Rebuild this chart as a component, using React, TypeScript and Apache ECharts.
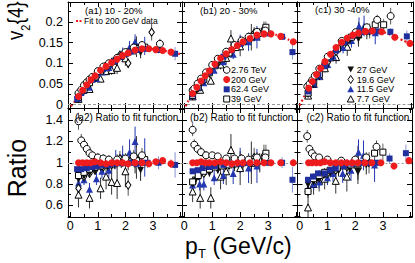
import React, { useEffect, useRef } from 'react';
import * as echarts from 'echarts';

// ---------- DATA: [pT, value, error] ----------
// Panel (a) 10-20%
const FIT_A = [[0.03,-0.004],[0.1,0.002],[0.2,0.011],[0.3,0.02],[0.4,0.03],[0.5,0.04],[0.6,0.048],[0.7,0.056],[0.8,0.063],[0.9,0.07],[1.0,0.077],[1.2,0.088],[1.4,0.097],[1.6,0.106],[1.8,0.115],[2.0,0.122],[2.2,0.128],[2.4,0.133],[2.6,0.135],[2.8,0.135],[3.0,0.134],[3.2,0.132],[3.4,0.13],[3.6,0.128],[3.8,0.125],[4.0,0.122]];
const A_TOP_276 = [[0.3,0.028,0.002],[0.4,0.036,0.002],[0.5,0.047,0.002],[0.6,0.054,0.002],[0.7,0.061,0.003],[0.8,0.067,0.003],[1.0,0.081,0.003],[1.2,0.092,0.004],[1.4,0.1,0.004],[1.7,0.113,0.005],[2.0,0.127,0.006],[2.3,0.138,0.008],[2.6,0.144,0.009],[3.25,0.147,0.012]];
const A_RAT_276 = [[0.3,1.39,0.08],[0.4,1.21,0.06],[0.5,1.17,0.05],[0.6,1.13,0.05],[0.7,1.09,0.04],[0.8,1.07,0.04],[1.0,1.05,0.04],[1.2,1.04,0.04],[1.4,1.03,0.04],[1.7,1.03,0.05],[2.0,1.04,0.05],[2.3,1.06,0.06],[2.6,1.07,0.07]];
const A_TOP_200 = [[0.3,0.02,0.001],[0.45,0.035,0.001],[0.6,0.048,0.001],[0.75,0.06,0.001],[0.9,0.07,0.001],[1.1,0.083,0.001],[1.3,0.093,0.001],[1.5,0.102,0.001],[1.7,0.11,0.002],[1.9,0.119,0.002],[2.1,0.125,0.002],[2.35,0.132,0.002],[2.6,0.135,0.003],[2.85,0.135,0.003],[3.1,0.133,0.003],[3.35,0.131,0.004],[3.65,0.127,0.005]];
const A_RAT_200 = [[0.3,1.0,0.01],[0.45,1.0,0.01],[0.6,1.0,0.01],[0.75,1.0,0.01],[0.9,1.01,0.01],[1.1,1.0,0.01],[1.3,0.99,0.01],[1.5,1.0,0.01],[1.7,1.0,0.01],[1.9,1.0,0.01],[2.1,0.99,0.015],[2.35,1.0,0.015],[2.6,1.0,0.02],[2.85,0.99,0.02],[3.1,1.01,0.02],[3.35,1.02,0.03],[3.65,0.99,0.04]];
const A_TOP_624 = [[0.25,0.014,0.001],[0.4,0.028,0.001],[0.6,0.046,0.001],[0.8,0.06,0.001],[1.0,0.075,0.001],[1.2,0.086,0.002],[1.4,0.095,0.002],[1.6,0.105,0.002],[1.8,0.115,0.002],[2.0,0.122,0.003],[2.2,0.128,0.003],[2.4,0.132,0.004],[2.6,0.135,0.005],[2.8,0.135,0.006],[3.2,0.132,0.008],[3.8,0.123,0.016]];
const A_RAT_624 = [[0.25,0.94,0.01],[0.4,0.94,0.01],[0.6,0.95,0.01],[0.8,0.96,0.01],[1.0,0.97,0.01],[1.2,0.98,0.015],[1.4,0.98,0.015],[1.6,0.99,0.02],[1.8,1.0,0.02],[2.0,1.0,0.025],[2.2,1.0,0.03],[2.4,0.99,0.035],[2.6,1.0,0.04],[2.8,1.0,0.05],[3.2,1.0,0.06],[3.8,0.98,0.12]];
const A_TOP_39 = [[0.3,0.018,0.001],[0.5,0.036,0.001],[0.7,0.053,0.001],[0.9,0.067,0.002],[1.1,0.081,0.002],[1.35,0.094,0.003],[1.6,0.105,0.003],[1.85,0.117,0.004],[2.1,0.127,0.006],[2.4,0.136,0.008],[2.7,0.139,0.011]];
const A_RAT_39 = [[0.3,0.88,0.03],[0.5,0.91,0.02],[0.7,0.94,0.02],[0.9,0.96,0.02],[1.1,0.97,0.02],[1.35,0.98,0.03],[1.6,0.99,0.03],[1.85,1.0,0.04],[2.1,1.01,0.05],[2.4,1.02,0.06],[2.7,1.03,0.08]];
const A_TOP_27 = [[0.3,0.017,0.001],[0.5,0.035,0.001],[0.7,0.05,0.002],[0.9,0.064,0.002],[1.1,0.079,0.002],[1.35,0.092,0.004],[1.6,0.104,0.004],[1.85,0.117,0.006],[2.1,0.124,0.008],[2.35,0.13,0.01],[2.55,0.125,0.013]];
const A_RAT_27 = [[0.3,0.84,0.04],[0.5,0.87,0.03],[0.7,0.9,0.03],[0.9,0.92,0.03],[1.1,0.95,0.03],[1.35,0.96,0.04],[1.6,0.98,0.04],[1.85,1.0,0.05],[2.1,0.99,0.06],[2.35,0.98,0.08],[2.55,0.93,0.1]];
const A_TOP_196 = [[0.3,0.015,0.001],[0.5,0.035,0.002],[0.7,0.05,0.002],[0.9,0.065,0.003],[1.2,0.085,0.004],[1.5,0.1,0.006],[1.8,0.12,0.008],[2.1,0.1,0.012],[2.4,0.136,0.016],[2.95,0.175,0.02]];
const A_RAT_196 = [[0.3,0.76,0.05],[0.5,0.87,0.04],[0.7,0.9,0.04],[0.9,0.93,0.04],[1.2,0.96,0.05],[1.5,0.98,0.06],[1.8,1.04,0.07],[2.1,0.79,0.1],[2.4,1.02,0.12]];
const A_TOP_115 = [[0.3,0.016,0.001],[0.5,0.034,0.002],[0.7,0.042,0.003],[0.95,0.063,0.004],[1.15,0.079,0.006],[1.4,0.09,0.008],[1.65,0.111,0.01],[1.9,0.126,0.012],[2.15,0.139,0.015],[2.35,0.152,0.018],[2.7,0.142,0.022]];
const A_RAT_115 = [[0.3,0.81,0.06],[0.5,0.84,0.05],[0.7,0.75,0.06],[0.95,0.85,0.06],[1.15,0.92,0.07],[1.4,0.93,0.08],[1.65,1.03,0.09],[1.9,1.06,0.1],[2.15,1.1,0.12],[2.35,1.2,0.14],[2.7,1.05,0.18]];
const A_TOP_77 = [[0.3,0.014,0.003],[0.7,0.038,0.005],[1.1,0.063,0.008],[1.3,0.081,0.01],[1.5,0.084,0.012],[1.7,0.089,0.015],[2.0,0.112,0.018],[2.4,0.14,0.025]];
const A_RAT_77 = [[0.3,0.7,0.12],[0.7,0.67,0.1],[1.1,0.76,0.1],[1.3,0.87,0.12],[1.5,0.82,0.12],[1.7,0.81,0.15],[2.0,0.92,0.15],[2.4,1.05,0.2]];

// Panel (b) 20-30%
const FIT_B = [[0.05,-0.004],[0.1,0.004],[0.2,0.015],[0.3,0.027],[0.4,0.037],[0.5,0.047],[0.6,0.057],[0.7,0.066],[0.8,0.074],[0.9,0.082],[1.0,0.09],[1.2,0.105],[1.4,0.118],[1.6,0.128],[1.8,0.138],[2.0,0.148],[2.2,0.156],[2.4,0.163],[2.6,0.168],[2.8,0.171],[3.0,0.172],[3.2,0.17],[3.4,0.166],[3.6,0.161],[3.8,0.155],[4.0,0.149]];
const B_TOP_276 = [[0.3,0.035,0.002],[0.36,0.039,0.002],[0.48,0.051,0.002],[0.6,0.063,0.002],[0.78,0.078,0.003],[1.0,0.096,0.003],[1.2,0.111,0.003],[1.5,0.128,0.004],[1.8,0.144,0.005],[2.05,0.155,0.006],[2.3,0.164,0.008],[2.6,0.176,0.009],[2.9,0.179,0.011]];
const B_RAT_276 = [[0.3,1.31,0.06],[0.36,1.17,0.05],[0.48,1.13,0.04],[0.6,1.1,0.04],[0.78,1.07,0.04],[1.0,1.07,0.03],[1.2,1.06,0.03],[1.5,1.04,0.03],[1.8,1.04,0.04],[2.05,1.04,0.04],[2.3,1.03,0.05],[2.6,1.05,0.05],[2.9,1.05,0.06]];
const B_TOP_200 = [[0.3,0.027,0.001],[0.45,0.042,0.001],[0.6,0.057,0.001],[0.75,0.07,0.001],[0.9,0.082,0.001],[1.1,0.098,0.001],[1.3,0.112,0.001],[1.5,0.123,0.002],[1.7,0.133,0.002],[1.9,0.143,0.002],[2.1,0.152,0.002],[2.35,0.16,0.002],[2.6,0.168,0.003],[2.85,0.171,0.003],[3.1,0.171,0.003],[3.45,0.165,0.004],[3.9,0.152,0.005]];
const B_RAT_200 = [[0.3,1.0,0.01],[0.45,1.0,0.01],[0.6,1.01,0.01],[0.75,1.0,0.01],[0.9,1.0,0.01],[1.1,1.0,0.01],[1.3,1.01,0.01],[1.5,1.0,0.01],[1.7,0.99,0.01],[1.9,1.0,0.01],[2.1,1.0,0.015],[2.35,1.0,0.015],[2.6,1.0,0.02],[2.85,1.0,0.02],[3.1,1.0,0.02],[3.45,1.0,0.03],[3.9,1.0,0.03]];
const B_TOP_624 = [[0.3,0.025,0.001],[0.48,0.042,0.001],[0.66,0.059,0.001],[0.9,0.079,0.001],[1.1,0.095,0.002],[1.4,0.116,0.002],[1.7,0.132,0.002],[2.0,0.147,0.003],[2.3,0.16,0.003],[2.6,0.168,0.004],[3.0,0.172,0.005],[3.5,0.164,0.008],[3.87,0.127,0.018]];
const B_RAT_624 = [[0.3,0.92,0.01],[0.48,0.93,0.01],[0.66,0.95,0.01],[0.9,0.96,0.01],[1.1,0.97,0.01],[1.4,0.98,0.015],[1.7,0.99,0.015],[2.0,0.99,0.02],[2.3,1.0,0.02],[2.6,1.0,0.025],[3.0,1.0,0.03],[3.5,1.0,0.05],[3.87,0.84,0.12]];
const B_TOP_39 = [[0.3,0.022,0.001],[0.5,0.041,0.001],[0.7,0.061,0.001],[0.9,0.077,0.002],[1.1,0.094,0.002],[1.35,0.111,0.003],[1.6,0.125,0.004],[1.85,0.138,0.004],[2.1,0.152,0.006],[2.4,0.165,0.008],[2.65,0.172,0.01],[2.92,0.187,0.014]];
const B_RAT_39 = [[0.3,0.82,0.03],[0.5,0.88,0.02],[0.7,0.92,0.02],[0.9,0.94,0.02],[1.1,0.96,0.02],[1.35,0.97,0.03],[1.6,0.98,0.03],[1.85,0.99,0.03],[2.1,1.0,0.04],[2.4,1.01,0.05],[2.65,1.02,0.06],[2.92,1.09,0.08]];
const B_TOP_27 = [[0.3,0.022,0.001],[0.42,0.032,0.001],[0.56,0.046,0.002],[0.9,0.074,0.002],[1.2,0.098,0.003],[1.5,0.119,0.005],[1.8,0.134,0.007],[2.1,0.149,0.009],[2.4,0.16,0.011],[2.7,0.17,0.015]];
const B_RAT_27 = [[0.3,0.8,0.05],[0.42,0.84,0.04],[0.56,0.87,0.03],[0.9,0.9,0.03],[1.2,0.93,0.03],[1.5,0.97,0.04],[1.8,0.97,0.05],[2.1,0.98,0.06],[2.4,0.98,0.07],[2.7,1.0,0.09]];
const B_TOP_196 = [[0.3,0.022,0.001],[0.5,0.041,0.002],[0.7,0.059,0.003],[0.9,0.076,0.003],[1.2,0.1,0.005],[1.6,0.125,0.008],[2.0,0.151,0.01],[2.5,0.173,0.015],[2.85,0.183,0.018]];
const B_RAT_196 = [[0.3,0.82,0.05],[0.5,0.88,0.04],[0.7,0.9,0.04],[0.9,0.93,0.04],[1.2,0.95,0.05],[1.6,0.98,0.06],[2.0,1.02,0.07],[2.5,1.05,0.09],[2.85,1.07,0.1]];
const B_TOP_115 = [[0.3,0.021,0.002],[0.55,0.042,0.003],[0.7,0.053,0.004],[1.07,0.083,0.006],[1.4,0.104,0.009],[1.75,0.122,0.012],[2.0,0.151,0.018],[2.3,0.152,0.022],[2.6,0.163,0.027]];
const B_RAT_115 = [[0.3,0.79,0.06],[0.55,0.8,0.06],[0.7,0.8,0.06],[1.07,0.86,0.07],[1.4,0.88,0.08],[1.75,0.9,0.1],[2.0,1.02,0.12],[2.3,0.95,0.14],[2.6,0.97,0.16]];
const B_TOP_77 = [[0.3,0.02,0.003],[0.57,0.036,0.005],[0.95,0.058,0.008],[1.3,0.097,0.012],[1.5,0.113,0.015],[1.67,0.16,0.02],[2.0,0.141,0.024],[2.4,0.163,0.032]];
const B_RAT_77 = [[0.3,0.73,0.1],[0.57,0.67,0.1],[0.95,0.67,0.1],[1.3,0.87,0.12],[1.5,0.92,0.13],[1.67,1.12,0.15],[2.0,0.95,0.16],[2.4,1.0,0.2]];

// Panel (c) 30-40%
const FIT_C = [[0.0,-0.002],[0.1,0.012],[0.2,0.026],[0.3,0.038],[0.4,0.05],[0.5,0.062],[0.6,0.073],[0.7,0.083],[0.8,0.094],[0.9,0.104],[1.0,0.113],[1.1,0.122],[1.2,0.13],[1.3,0.138],[1.4,0.145],[1.5,0.151],[1.6,0.156],[1.7,0.161],[1.8,0.165],[1.9,0.168],[2.0,0.17],[2.2,0.175],[2.4,0.178],[2.6,0.178],[2.8,0.177],[3.0,0.175],[3.2,0.17],[3.4,0.164],[3.6,0.158],[3.8,0.152],[4.0,0.146]];
const C_TOP_276 = [[0.27,0.044,0.003],[0.35,0.05,0.002],[0.44,0.059,0.002],[0.54,0.07,0.002],[0.7,0.087,0.003],[1.0,0.116,0.003],[1.5,0.154,0.005],[2.0,0.175,0.007],[2.4,0.187,0.009],[2.77,0.205,0.012],[3.25,0.214,0.02]];
const C_RAT_276 = [[0.27,1.25,0.06],[0.35,1.13,0.04],[0.44,1.09,0.04],[0.54,1.06,0.03],[0.7,1.05,0.03],[1.0,1.03,0.03],[1.5,1.02,0.03],[2.0,1.03,0.04],[2.4,1.05,0.05],[2.77,1.15,0.06]];
const C_TOP_200 = [[0.32,0.04,0.001],[0.45,0.056,0.001],[0.6,0.073,0.001],[0.75,0.088,0.001],[0.9,0.104,0.001],[1.1,0.122,0.001],[1.3,0.138,0.002],[1.5,0.151,0.002],[1.7,0.161,0.002],[1.9,0.168,0.002],[2.1,0.173,0.002],[2.35,0.177,0.003],[2.6,0.178,0.003],[2.93,0.176,0.003],[3.4,0.163,0.004],[3.94,0.148,0.005]];
const C_RAT_200 = [[0.32,1.0,0.01],[0.45,1.0,0.01],[0.6,1.0,0.01],[0.75,1.0,0.01],[0.9,1.01,0.01],[1.1,1.0,0.01],[1.3,1.0,0.01],[1.5,1.0,0.01],[1.7,1.0,0.01],[1.9,1.0,0.01],[2.1,1.0,0.015],[2.35,1.0,0.015],[2.6,1.0,0.02],[2.93,1.0,0.02],[3.4,0.97,0.03],[3.94,1.02,0.03]];
const C_TOP_624 = [[0.3,0.032,0.001],[0.48,0.052,0.001],[0.66,0.071,0.001],[0.9,0.094,0.001],[1.1,0.113,0.002],[1.3,0.131,0.002],[1.6,0.151,0.003],[1.9,0.166,0.003],[2.2,0.175,0.004],[2.5,0.178,0.005],[2.8,0.177,0.006],[3.24,0.176,0.009],[3.83,0.165,0.014]];
const C_RAT_624 = [[0.3,0.84,0.015],[0.48,0.87,0.01],[0.66,0.9,0.01],[0.9,0.9,0.01],[1.1,0.93,0.01],[1.3,0.95,0.015],[1.6,0.97,0.015],[1.9,0.99,0.02],[2.2,1.0,0.02],[2.5,1.0,0.025],[2.8,1.0,0.03],[3.24,1.04,0.05],[3.83,1.09,0.08]];
const C_TOP_39 = [[0.3,0.028,0.002],[0.5,0.053,0.002],[0.7,0.073,0.002],[0.9,0.095,0.002],[1.1,0.113,0.002],[1.35,0.135,0.004],[1.6,0.151,0.005],[1.85,0.163,0.005],[2.1,0.171,0.007],[2.4,0.178,0.009],[2.7,0.193,0.011],[3.0,0.193,0.014]];
const C_RAT_39 = [[0.3,0.73,0.04],[0.5,0.85,0.03],[0.7,0.88,0.02],[0.9,0.91,0.02],[1.1,0.93,0.02],[1.35,0.95,0.03],[1.6,0.97,0.03],[1.85,0.98,0.03],[2.1,0.99,0.04],[2.4,1.0,0.05],[2.7,1.09,0.06],[3.0,1.1,0.08]];
const C_TOP_27 = [[0.3,0.03,0.002],[0.5,0.051,0.002],[0.7,0.071,0.003],[0.9,0.092,0.004],[1.1,0.11,0.004],[1.4,0.133,0.007],[1.8,0.155,0.01],[2.1,0.158,0.012],[2.4,0.174,0.016]];
const C_RAT_27 = [[0.3,0.79,0.05],[0.5,0.82,0.04],[0.7,0.85,0.04],[0.9,0.88,0.04],[1.1,0.9,0.04],[1.4,0.92,0.05],[1.8,0.94,0.06],[2.1,0.91,0.07],[2.4,0.98,0.09]];
const C_TOP_196 = [[0.3,0.028,0.002],[0.5,0.052,0.003],[0.7,0.071,0.004],[1.0,0.102,0.006],[1.3,0.128,0.008],[1.7,0.155,0.011],[2.1,0.17,0.016],[2.5,0.178,0.018]];
const C_RAT_196 = [[0.3,0.73,0.06],[0.5,0.84,0.05],[0.7,0.86,0.05],[1.0,0.9,0.05],[1.3,0.93,0.06],[1.7,0.96,0.07],[2.1,0.98,0.09],[2.5,1.0,0.1]];
const C_TOP_115 = [[0.3,0.029,0.003],[0.5,0.05,0.004],[0.7,0.068,0.005],[1.0,0.097,0.008],[1.2,0.117,0.01],[1.55,0.138,0.014],[1.85,0.155,0.017],[2.12,0.19,0.021],[2.3,0.19,0.025],[2.7,0.174,0.028]];
const C_RAT_115 = [[0.3,0.76,0.07],[0.5,0.8,0.06],[0.7,0.82,0.06],[1.0,0.86,0.07],[1.2,0.9,0.08],[1.55,0.9,0.09],[1.85,0.93,0.1],[2.12,1.1,0.12],[2.3,1.07,0.14],[2.7,0.98,0.16]];
const C_TOP_77 = [[0.3,0.022,0.005],[0.5,0.05,0.006],[0.7,0.069,0.008],[0.9,0.088,0.01],[1.3,0.115,0.016],[1.7,0.14,0.022],[2.1,0.17,0.03]];
const C_RAT_77 = [[0.3,0.58,0.12],[0.5,0.8,0.1],[0.7,0.83,0.1],[0.9,0.85,0.1],[1.3,0.83,0.12],[1.7,0.87,0.14],[2.1,0.98,0.18]];

const PANEL_TITLES = ['(a1) 10 - 20%', '(b1) 20 - 30%', '(c1) 30 -40%'];
const RATIO_TITLES = ['(a2) Ratio to fit function', '(b2) Ratio to fit function', '(c2) Ratio to fit function'];
const X_TICK_LABELS = [0, 1, 2, 3];
const V2_TICK_LABELS = [0, 0.05, 0.1, 0.15, 0.2];
const RATIO_TICK_LABELS = [0.6, 0.8, 1, 1.2, 1.4];
const LEGEND_B = ['2.76 TeV', '200 GeV', '62.4 GeV', '39 GeV'];
const LEGEND_C = ['27 GeV', '19.6 GeV', '11.5 GeV', '7.7 GeV'];
const FIT_LABEL = 'Fit to 200 GeV data';

// ---------- STYLES ----------
const FONT = '"Liberation Sans", Arial, Helvetica, sans-serif';
const RED = '#ee1c1c';
const BLUE = '#1f2f9e';
const BLUE2 = '#2338b0';

const META: Record<string, any> = {
  '276': { symbol: 'circle', size: 7, fill: '#ffffff', stroke: '#000000', bw: 1, err: '#555555', rot: 0 },
  '200': { symbol: 'circle', size: 7, fill: RED, stroke: RED, bw: 0, err: RED, rot: 0 },
  '624': { symbol: 'rect', size: 6, fill: BLUE, stroke: BLUE, bw: 0, err: '#8a97d6', rot: 0 },
  '39': { symbol: 'rect', size: 6, fill: '#ffffff', stroke: '#000000', bw: 1, err: '#666666', rot: 0 },
  '27': { symbol: 'triangle', size: 6.5, fill: '#111111', stroke: '#111111', bw: 0, err: '#222222', rot: 180 },
  '196': { symbol: 'diamond', size: [5.5, 8], fill: '#ffffff', stroke: '#000000', bw: 1, err: '#555555', rot: 0 },
  '115': { symbol: 'triangle', size: 7, fill: BLUE2, stroke: BLUE2, bw: 0, err: BLUE2, rot: 0 },
  '77': { symbol: 'triangle', size: 7, fill: '#ffffff', stroke: '#000000', bw: 1, err: '#333333', rot: 0 },
};
const ORDER = ['77', '115', '196', '27', '39', '624', '276', '200'];

const PANELS = [
  { fit: FIT_A,
    top: { '276': A_TOP_276, '200': A_TOP_200, '624': A_TOP_624, '39': A_TOP_39, '27': A_TOP_27, '196': A_TOP_196, '115': A_TOP_115, '77': A_TOP_77 },
    rat: { '276': A_RAT_276, '200': A_RAT_200, '624': A_RAT_624, '39': A_RAT_39, '27': A_RAT_27, '196': A_RAT_196, '115': A_RAT_115, '77': A_RAT_77 } },
  { fit: FIT_B,
    top: { '276': B_TOP_276, '200': B_TOP_200, '624': B_TOP_624, '39': B_TOP_39, '27': B_TOP_27, '196': B_TOP_196, '115': B_TOP_115, '77': B_TOP_77 },
    rat: { '276': B_RAT_276, '200': B_RAT_200, '624': B_RAT_624, '39': B_RAT_39, '27': B_RAT_27, '196': B_RAT_196, '115': B_RAT_115, '77': B_RAT_77 } },
  { fit: FIT_C,
    top: { '276': C_TOP_276, '200': C_TOP_200, '624': C_TOP_624, '39': C_TOP_39, '27': C_TOP_27, '196': C_TOP_196, '115': C_TOP_115, '77': C_TOP_77 },
    rat: { '276': C_RAT_276, '200': C_RAT_200, '624': C_RAT_624, '39': C_RAT_39, '27': C_RAT_27, '196': C_RAT_196, '115': C_RAT_115, '77': C_RAT_77 } },
];

const LEFTS = [68, 182, 297.5];
const WIDTHS = [114, 115.5, 115.5];
const TOPS = [2, 108];
const HEIGHTS = [106, 109];
const X_RANGE = [-0.08, 4.05];
const Y_RANGES = [[-0.008, 0.248], [0.49, 1.515]];

function near(v: number, list: number[]) {
  for (const t of list) if (Math.abs(v - t) < 1e-6) return t;
  return null;
}

function makeAxis(min: number, max: number, position: string, gridIndex: number, showLabel: boolean, labels: number[], margin: number) {
  return {
    type: 'value', gridIndex, min, max, position, splitNumber: 5,
    axisLine: { show: true, onZero: false, lineStyle: { color: '#000', width: 1 } },
    axisTick: { show: true, inside: true, length: 5, lineStyle: { color: '#000', width: 1 } },
    minorTick: { show: true, splitNumber: 2, length: 3, lineStyle: { color: '#000', width: 1 } },
    splitLine: { show: false },
    minorSplitLine: { show: false },
    axisLabel: {
      show: showLabel, margin, fontSize: 12.5, lineHeight: 12, fontFamily: FONT, color: '#000',
      showMinLabel: true, showMaxLabel: true, hideOverlap: false,
      formatter: (v: number) => { const t = near(v, labels); return t === null ? '' : String(t); },
    },
  };
}

function buildOption() {
  const grid: any[] = [];
  const xAxis: any[] = [];
  const yAxis: any[] = [];
  const series: any[] = [];
  PANELS.forEach((P, p) => {
    [0, 1].forEach((r) => {
      const g = p * 2 + r;
      grid.push({ left: LEFTS[p], top: TOPS[r], width: WIDTHS[p], height: HEIGHTS[r], containLabel: false });
      xAxis.push(makeAxis(X_RANGE[0], X_RANGE[1], 'bottom', g, r === 1, X_TICK_LABELS, 3));
      xAxis.push(makeAxis(X_RANGE[0], X_RANGE[1], 'top', g, false, X_TICK_LABELS, 3));
      const yl = r === 0 ? V2_TICK_LABELS : RATIO_TICK_LABELS;
      yAxis.push(makeAxis(Y_RANGES[r][0], Y_RANGES[r][1], 'left', g, p === 0, yl, 5));
      yAxis.push(makeAxis(Y_RANGES[r][0], Y_RANGES[r][1], 'right', g, false, yl, 5));
      const xi = 2 * g, yi = 2 * g;
      const refLine = {
        silent: true, symbol: 'none', z: 1, label: { show: false },
        lineStyle: { color: '#9a9a9a', width: 1, type: r === 0 ? [3, 2] : [2, 2] },
        data: [{ yAxis: r === 0 ? 0 : 1 }],
      };
      if (r === 0) {
        series.push({
          type: 'line', xAxisIndex: xi, yAxisIndex: yi, data: P.fit, symbol: 'none', showSymbol: false,
          smooth: true, silent: true, z: 2, clip: true,
          lineStyle: { color: RED, width: 2.2, type: [2, 2.5] },
          markLine: refLine,
        });
      }
      const src: any = r === 0 ? P.top : P.rat;
      ORDER.forEach((k) => {
        const m = META[k];
        series.push({
          type: 'custom', xAxisIndex: xi, yAxisIndex: yi, data: src[k], clip: true, silent: true, z: 2,
          encode: { x: 0, y: 1 },
          renderItem: (_params: any, api: any) => {
            const x = api.value(0), y = api.value(1), e = api.value(2);
            const a = api.coord([x, y - e]);
            const b = api.coord([x, y + e]);
            return { type: 'line', shape: { x1: a[0], y1: a[1], x2: b[0], y2: b[1] }, style: { stroke: m.err, lineWidth: 1 } };
          },
        });
      });
      ORDER.forEach((k, i) => {
        const m = META[k];
        const s: any = {
          type: 'scatter', xAxisIndex: xi, yAxisIndex: yi, data: src[k].map((d: number[]) => [d[0], d[1]]),
          symbol: m.symbol, symbolSize: m.size, symbolRotate: m.rot, silent: true, z: 3 + i * 0.01,
          itemStyle: { color: m.fill, borderColor: m.stroke, borderWidth: m.bw, opacity: 1 },
        };
        if (r === 1 && i === 0) s.markLine = refLine;
        series.push(s);
      });
    });
  });

  const txt = (text: string, x: number, y: number, fontSize: number, extra: any = {}) => ({
    type: 'text', x, y, silent: true, z: 100,
    style: { text, fontSize, fontFamily: FONT, fill: '#000', align: 'left', verticalAlign: 'middle', ...extra },
  });

  const graphic: any[] = [];
  // panel titles
  graphic.push(txt(PANEL_TITLES[0], 85, 10, 9.5));
  graphic.push(txt(PANEL_TITLES[1], 200, 10, 9.5));
  graphic.push(txt(PANEL_TITLES[2], 315, 9.5, 9.5));
  graphic.push(txt(RATIO_TITLES[0], 75, 117, 10));
  graphic.push(txt(RATIO_TITLES[1], 190, 117, 10));
  graphic.push(txt(RATIO_TITLES[2], 306.5, 117, 10));
  // fit legend
  graphic.push({ type: 'line', silent: true, z: 100, shape: { x1: 76, y1: 21, x2: 83, y2: 21 }, style: { stroke: RED, lineWidth: 2.2, lineDash: [2, 1.5] } });
  graphic.push(txt(FIT_LABEL, 84, 21, 8.5));
  // legend b
  const ly = [70, 79.5, 89.3, 99];
  const bx = 226.7;
  graphic.push({ type: 'circle', silent: true, z: 100, shape: { cx: bx, cy: ly[0], r: 3.3 }, style: { fill: '#fff', stroke: '#000', lineWidth: 1 } });
  graphic.push({ type: 'circle', silent: true, z: 100, shape: { cx: bx, cy: ly[1], r: 3.5 }, style: { fill: RED } });
  graphic.push({ type: 'rect', silent: true, z: 100, shape: { x: bx - 3, y: ly[2] - 3, width: 6, height: 6 }, style: { fill: BLUE } });
  graphic.push({ type: 'rect', silent: true, z: 100, shape: { x: bx - 3, y: ly[3] - 3, width: 6, height: 6 }, style: { fill: '#fff', stroke: '#000', lineWidth: 1 } });
  LEGEND_B.forEach((t, i) => graphic.push(txt(t, bx + 4.3, ly[i], 9)));
  // legend c
  const cx = 350.7;
  const cy = [69.5, 79.5, 89.3, 99];
  graphic.push({ type: 'polygon', silent: true, z: 100, shape: { points: [[cx - 3.3, cy[0] - 3], [cx + 3.3, cy[0] - 3], [cx, cy[0] + 3]] }, style: { fill: '#111' } });
  graphic.push({ type: 'polygon', silent: true, z: 100, shape: { points: [[cx, cy[1] - 4], [cx + 2.7, cy[1]], [cx, cy[1] + 4], [cx - 2.7, cy[1]]] }, style: { fill: '#fff', stroke: '#000', lineWidth: 1 } });
  graphic.push({ type: 'polygon', silent: true, z: 100, shape: { points: [[cx - 3.4, cy[2] + 3], [cx + 3.4, cy[2] + 3], [cx, cy[2] - 3.3]] }, style: { fill: BLUE2 } });
  graphic.push({ type: 'polygon', silent: true, z: 100, shape: { points: [[cx - 3.4, cy[3] + 3], [cx + 3.4, cy[3] + 3], [cx, cy[3] - 3.3]] }, style: { fill: '#fff', stroke: '#000', lineWidth: 1 } });
  LEGEND_C.forEach((t, i) => graphic.push(txt(t, cx + 6, cy[i], 9)));
  // axis titles
  graphic.push({
    type: 'group', x: 15, y: 40, rotation: Math.PI / 2, scaleX: 0.85, silent: true, z: 100,
    children: [
      txt('v', 0, 0, 22),
      txt('2', 11, 11, 13),
      txt('{4}', 18.5, 0, 22),
    ],
  });
  graphic.push({
    type: 'group', x: 17, y: 168, rotation: Math.PI / 2, silent: true, z: 100,
    children: [txt('Ratio', 0, 0, 25, { align: 'center' })],
  });
  graphic.push(txt('p', 185, 246, 23));
  graphic.push(txt('T', 198, 253, 13));
  graphic.push(txt(' (GeV/c)', 206, 246, 23));

  return {
    animation: false,
    backgroundColor: '#ffffff',
    grid, xAxis, yAxis, series, graphic,
  };
}

export default function App() {
  const ref = useRef<HTMLDivElement>(null);
  useEffect(() => {
    document.body.style.margin = '0';
    if (!ref.current) return;
    const chart = echarts.init(ref.current, undefined, { renderer: 'svg' });
    chart.setOption(buildOption() as any);
    return () => chart.dispose();
  }, []);
  return <div ref={ref} style={{ width: 415, height: 263 }} />;
}
